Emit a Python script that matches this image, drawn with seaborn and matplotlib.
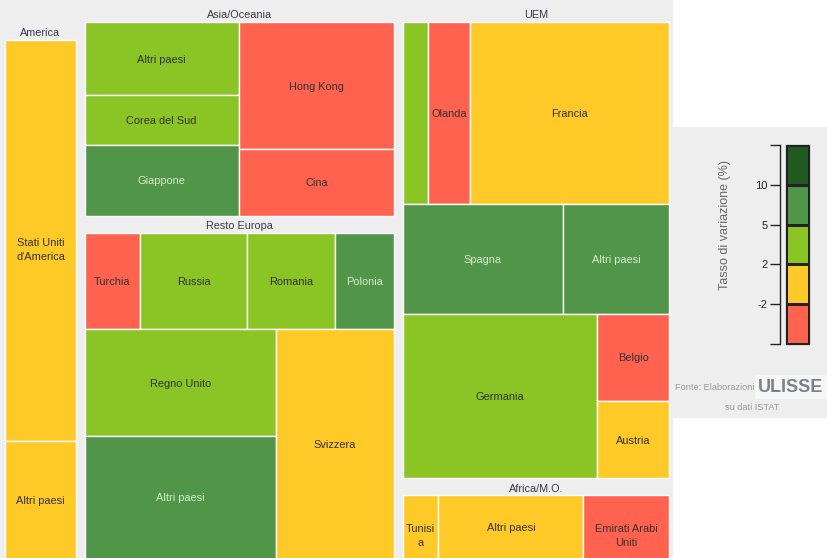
import numpy as np
import pandas as pd
import matplotlib
matplotlib.use("Agg")
import matplotlib.pyplot as plt
import seaborn as sns
from matplotlib.patches import Rectangle
from matplotlib.colors import ListedColormap

# ── Data (areas, classes = colour band) ───────────────────────────────────────
AMERICA_LABELS = ["Stati Uniti\nd'America", "Altri paesi"]
AMERICA_VALUES = [287, 84]
AMERICA_CLASS  = [1, 1]

ASIA_LABELS = ["Altri paesi", "Corea del Sud", "Giappone", "Hong Kong", "Cina"]
ASIA_VALUES = [112, 77, 108, 198, 103]
ASIA_CLASS  = [2, 2, 3, 0, 0]

EUROPA_LABELS = ["Turchia", "Russia", "Romania", "Polonia",
                 "Regno Unito", "Altri paesi", "Svizzera"]
EUROPA_VALUES = [53, 103, 84, 57, 205, 233, 272]
EUROPA_CLASS  = [0, 2, 2, 3, 2, 3, 1]

UEM_LABELS = ["", "Olanda", "Francia", "Spagna", "Altri paesi",
              "Germania", "Belgio", "Austria"]
UEM_VALUES = [46, 76, 362, 175, 116, 319, 63, 55]
UEM_CLASS  = [2, 0, 1, 3, 3, 2, 0, 1]

AFRICA_LABELS = ["Tunisi\na", "Altri paesi", "Emirati Arabi\nUniti"]
AFRICA_VALUES = [22.5, 92, 54.5]
AFRICA_CLASS  = [1, 1, 0]

LEGEND_TICKS = ["", "10", "5", "2", "-2", ""]
CLASS_COLORS = ["#FF634F", "#FFC928", "#8AC425", "#519548", "#215A21"]

REGIONS = {
    "America":      (AMERICA_LABELS, AMERICA_VALUES, AMERICA_CLASS),
    "Asia/Oceania": (ASIA_LABELS, ASIA_VALUES, ASIA_CLASS),
    "Resto Europa": (EUROPA_LABELS, EUROPA_VALUES, EUROPA_CLASS),
    "UEM":          (UEM_LABELS, UEM_VALUES, UEM_CLASS),
    "Africa/M.O.":  (AFRICA_LABELS, AFRICA_VALUES, AFRICA_CLASS),
}

# split structure of each region: ("h"|"v", children), ints = leaf index
SPLITS = {
    "America":      ("v", [0, 1]),
    "Asia/Oceania": ("h", [("v", [0, 1, 2]), ("v", [3, 4])]),
    "Resto Europa": ("v", [("h", [0, 1, 2, 3]),
                           ("h", [("v", [4, 5]), 6])]),
    "UEM":          ("v", [("h", [0, 1, 2]), ("h", [3, 4]),
                           ("h", [5, ("v", [6, 7])])]),
    "Africa/M.O.":  ("h", [0, 1, 2]),
}
COLUMNS = [["America"], ["Asia/Oceania", "Resto Europa"], ["UEM", "Africa/M.O."]]

# ── Geometry (pixels) ─────────────────────────────────────────────────────────
W, H = 828, 558
PANEL_W = 672.7
COL_TOP = [26, 8, 8]
HEADER = 14
GROUP_GAP = 3
COL_GAP = 8.4
LEFT = 4.6
RIGHT = 3.4
BOTTOM = 558.6
BG = "#eeeeee"


def node_value(node, vals):
    if isinstance(node, int):
        return vals[node]
    return sum(node_value(k, vals) for k in node[1])


def place(node, x, y, w, h, vals, out):
    if isinstance(node, int):
        out[node] = (x, y, w, h)
        return
    d, kids = node
    tot = node_value(node, vals)
    pos = x if d == "h" else y
    for k in kids:
        f = node_value(k, vals) / tot
        if d == "h":
            place(k, pos, y, w * f, h, vals, out)
            pos += w * f
        else:
            place(k, x, pos, w, h * f, vals, out)
            pos += h * f


sns.set_theme(style="white")
plt.rcParams["font.family"] = ["Liberation Sans", "DejaVu Sans"]

fig = plt.figure(figsize=(W / 100, H / 100), dpi=100)
ax = fig.add_axes([0, 0, 1, 1])
ax.set_xlim(0, W)
ax.set_ylim(H, 0)
ax.axis("off")

ax.add_patch(Rectangle((0, 0), PANEL_W, H, facecolor=BG, edgecolor="none"))
ax.add_patch(Rectangle((PANEL_W, 127), W - PANEL_W, 291, facecolor=BG, edgecolor="none"))

# column content heights and a common value->area scale
content_h = []
col_sum = []
for ci, col in enumerate(COLUMNS):
    n = len(col)
    content_h.append(BOTTOM - COL_TOP[ci] - n * HEADER - (n - 1) * GROUP_GAP)
    col_sum.append(sum(sum(REGIONS[r][1]) for r in col))
avail = PANEL_W - LEFT - RIGHT - COL_GAP * (len(COLUMNS) - 1)
scale = avail / sum(s / h for s, h in zip(col_sum, content_h))

x = LEFT
for ci, col in enumerate(COLUMNS):
    cw = scale * col_sum[ci] / content_h[ci]
    y = COL_TOP[ci]
    for r in col:
        labels, vals, cls = REGIONS[r]
        gh = scale * sum(vals) / cw
        ax.text(x + cw / 2, y + HEADER / 2 + 0.5, r, ha="center", va="center",
                fontsize=7.8, color="#3a3a4a")
        y += HEADER
        rects = {}
        place(SPLITS[r], x, y, cw, gh, vals, rects)
        for i, (rx, ry, rw, rh) in rects.items():
            ax.add_patch(Rectangle((rx, ry), rw, rh, facecolor=CLASS_COLORS[cls[i]],
                                   edgecolor="white", linewidth=1.0))
            if labels[i]:
                nl = labels[i].count("\n")
                tc = "#d8ead0" if cls[i] >= 3 else "#333333"
                ax.text(rx + rw / 2, ry + rh / 2 + 1 + nl * 8, labels[i], ha="center",
                        va="center", fontsize=7.9, color=tc, linespacing=1.5)
        y += gh + GROUP_GAP
    x += cw + COL_GAP

# ── Legend colour bar ─────────────────────────────────────────────────────────
cax = fig.add_axes([786 / W, 1 - 344 / H, 23.3 / W, 199 / H])
bands = pd.DataFrame({"c": list(range(len(CLASS_COLORS)))[::-1]})
sns.heatmap(bands, ax=cax, cmap=ListedColormap(CLASS_COLORS), vmin=-0.5,
            vmax=len(CLASS_COLORS) - 0.5, cbar=False, linewidths=0.75,
            linecolor="#222222", xticklabels=False)
cax.add_patch(Rectangle((0, 0), 1, len(CLASS_COLORS), fill=False,
                        edgecolor="#222222", linewidth=0.9, clip_on=False))
cax.spines["left"].set_visible(True)
cax.spines["left"].set_position(("outward", 4))
cax.spines["left"].set_color("#222222")
cax.spines["left"].set_linewidth(1.0)
cax.set_yticks(np.arange(len(LEGEND_TICKS)))
cax.set_yticklabels(LEGEND_TICKS, rotation=0, fontsize=8, color="#222222")
cax.tick_params(axis="y", left=True, length=7.5, width=1.0, color="#222222", pad=2)
cax.set_ylabel("")
cax.set_xlabel("")

fig.text(725 / W, 1 - 225 / H, "Tasso di variazione (%)", rotation=90,
         ha="center", va="center", fontsize=9, color="#666666")
fig.text(755 / W, 1 - 387 / H, "Fonte: Elaborazioni", ha="right", va="center",
         fontsize=6.6, color="#999999")
fig.text(791 / W, 1 - 387 / H, "ULISSE", ha="center", va="center",
         fontsize=13, fontweight="heavy", color="#7c8089",
         family=["Liberation Sans Narrow", "Liberation Sans"],
         bbox=dict(facecolor="#f6f6f6", edgecolor="none", pad=2.5))
fig.text(752 / W, 1 - 407 / H, "su dati ISTAT", ha="center", va="center",
         fontsize=6.6, color="#999999")

fig.savefig("out.png", dpi=100)
